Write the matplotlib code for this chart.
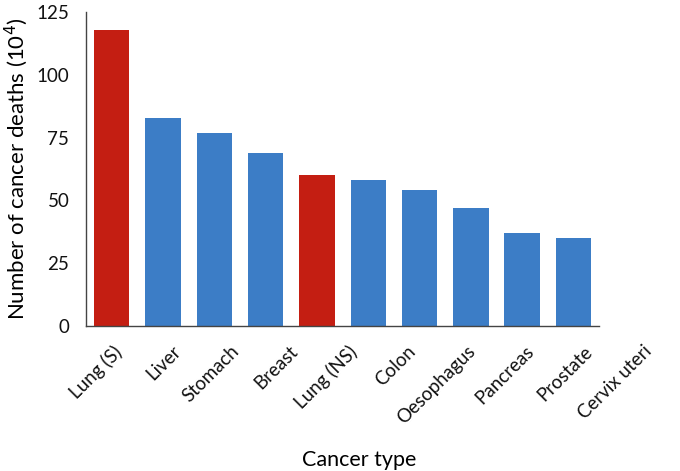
"""Cancer deaths by type, bar chart."""

import matplotlib

matplotlib.use("Agg")
import matplotlib.pyplot as plt
import matplotlib.transforms as mtransforms
import numpy as np

cancer_types = [
    "Lung (S)", "Liver", "Stomach", "Breast", "Lung (NS)",
    "Colon", "Oesophagus", "Pancreas", "Prostate", "Cervix uteri",
]
deaths = [118, 83, 77, 69, 60, 58, 54, 47, 37, 35]
highlight = ["Lung (S)", "Lung (NS)"]
y_ticks = [0, 25, 50, 75, 100, 125]

RED = "#C41E12"
BLUE = "#3C7DC6"

plt.rcParams["font.family"] = ["Lato", "DejaVu Sans"]

fig = plt.figure(figsize=(6.8, 4.71), dpi=100)
ax = fig.add_axes([0.1265, 0.3079, 0.7545, 0.6666])

x = np.arange(len(cancer_types))
colors = [RED if name in highlight else BLUE for name in cancer_types]
ax.bar(x, deaths, width=0.69, color=colors, edgecolor="none")

ax.set_xlim(-0.5, len(cancer_types) - 0.5)
ax.set_ylim(0, 125)
ax.set_yticks(y_ticks)
ax.set_xticks(x)
ax.set_xticklabels(cancer_types, rotation=45, ha="right", rotation_mode="anchor")
ax.tick_params(axis="both", length=0, labelsize=13.5, colors="#111111")
ax.tick_params(axis="y", pad=12)
ax.tick_params(axis="x", pad=12)

# labels in the source are spread a bit wider than the bars
for i, lbl in enumerate(ax.get_xticklabels()):
    shift = mtransforms.ScaledTranslation((1 + 7.6 * i) / 100, 0, fig.dpi_scale_trans)
    lbl.set_transform(lbl.get_transform() + shift)

for side in ("top", "right"):
    ax.spines[side].set_visible(False)
for side in ("left", "bottom"):
    ax.spines[side].set_color("#444444")
    ax.spines[side].set_linewidth(1.0)

ax.set_ylabel("Number of cancer deaths (10$^4$)", fontsize=16, labelpad=5)
ax.set_xlabel("Cancer type", fontsize=15.5)
ax.xaxis.set_label_coords(0.533, -0.395)

fig.savefig("out.png", dpi=100)
plt.close(fig)
